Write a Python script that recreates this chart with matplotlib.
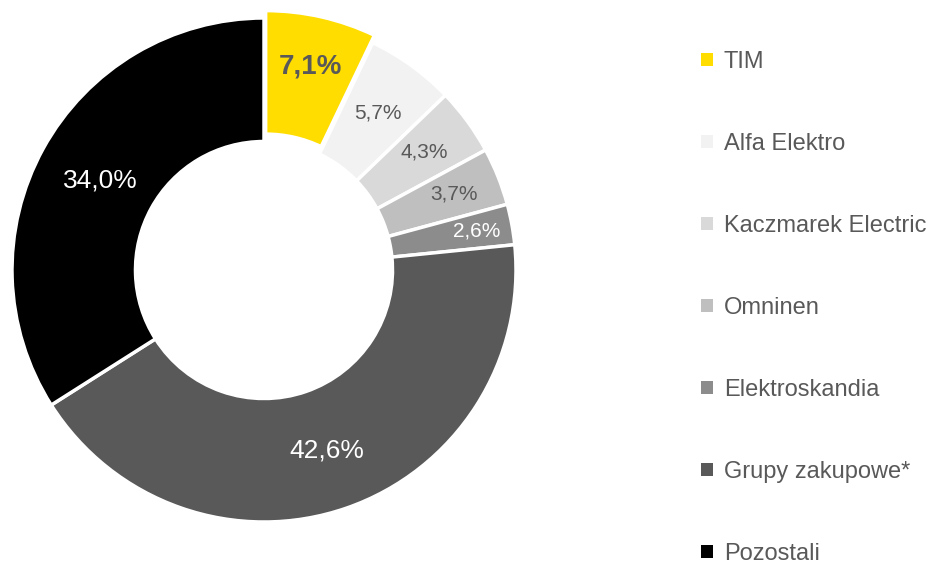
import matplotlib.pyplot as plt
import numpy as np
from matplotlib.patches import Patch

plt.rcParams['font.family'] = ['Liberation Sans', 'DejaVu Sans']

names = ['TIM', 'Alfa Elektro', 'Kaczmarek Electric', 'Omninen',
         'Elektroskandia', 'Grupy zakupowe*', 'Pozostali']
shares = [7.1, 5.7, 4.3, 3.7, 2.6, 42.6, 34.0]
colors = ['#FFDD00', '#F2F2F2', '#D9D9D9', '#BFBFBF', '#8C8C8C', '#595959', '#000000']
label_colors = ['#595959', '#595959', '#595959', '#595959', 'white', 'white', 'white']
label_sizes = [20, 15, 15, 15, 15, 19, 19]
label_dist = [0.80, 0.77, 0.79, 0.81, 0.86, 0.76, 0.74]
explode = [0.03, 0, 0, 0, 0, 0, 0]

TEXT = '#595959'


def main():
    fig = plt.figure(figsize=(9.44, 5.67), dpi=100)
    R = 252
    size = 2.1 * R
    cx, cy = 264, 567 - 270
    ax = fig.add_axes([(cx - size / 2) / 944, (cy - size / 2) / 567, size / 944, size / 567])

    wedges, _ = ax.pie(shares, colors=colors, startangle=90, counterclock=False,
                       explode=explode, radius=1,
                       wedgeprops=dict(width=0.49, edgecolor='white', linewidth=2.5))
    ax.set_xlim(-1.05, 1.05)
    ax.set_ylim(-1.05, 1.05)
    ax.set_aspect('equal')

    for i, w in enumerate(wedges):
        ang = np.deg2rad((w.theta1 + w.theta2) / 2)
        d = label_dist[i] + explode[i]
        txt = f'{shares[i]:.1f}%'.replace('.', ',')
        ax.text(d * np.cos(ang), d * np.sin(ang), txt, ha='center', va='center',
                color=label_colors[i], fontsize=label_sizes[i],
                fontweight='bold' if i == 0 else 'normal')

    handles = [Patch(facecolor=c, edgecolor='none') for c in colors]
    leg = fig.legend(handles, names, loc='upper left', bbox_to_anchor=(689 / 944, 1 - 39 / 567),
                     frameon=False, fontsize=17, labelspacing=2.54, handlelength=0.5,
                     handleheight=0.5, handletextpad=0.47, borderpad=0)
    for t in leg.get_texts():
        t.set_color(TEXT)

    fig.savefig('out.png', dpi=100)


if __name__ == '__main__':
    main()
